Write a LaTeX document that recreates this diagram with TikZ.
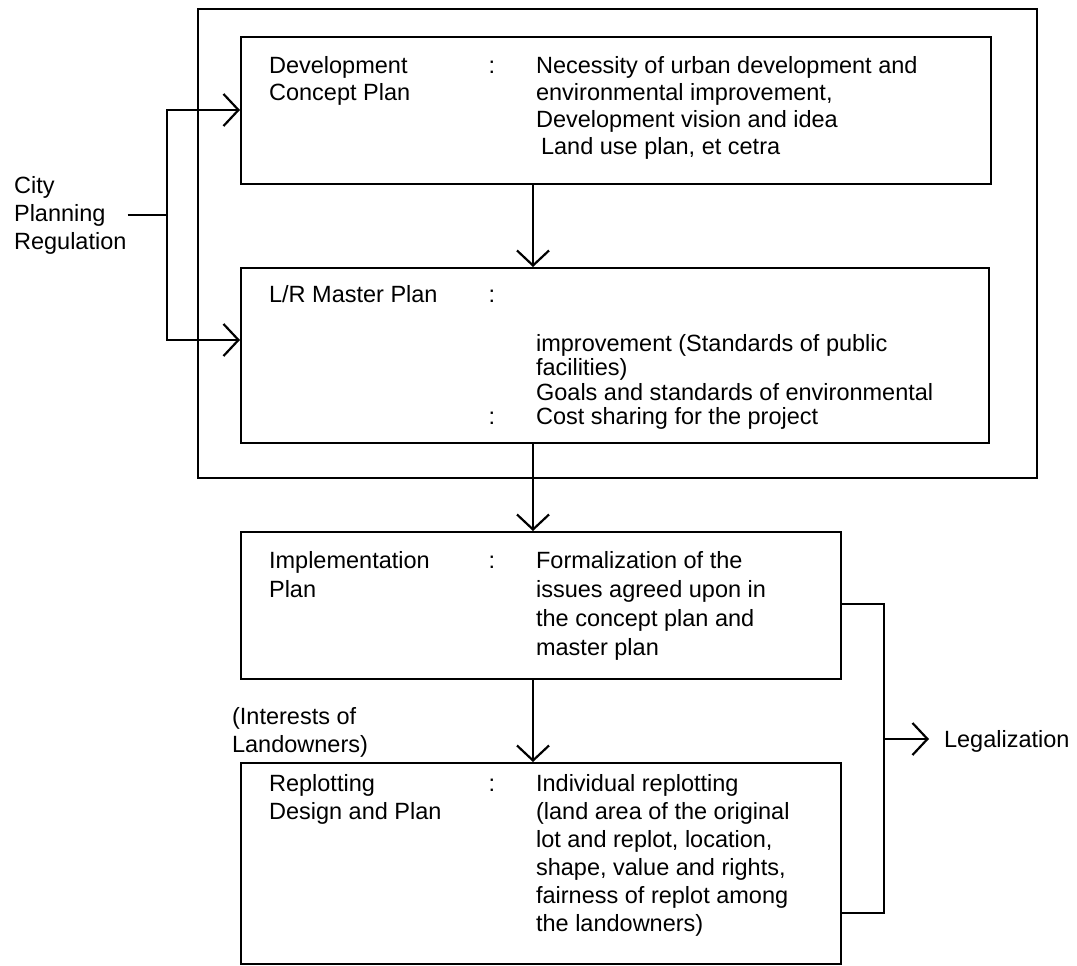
\documentclass[tikz,border=0pt]{standalone}
\usepackage{fontspec}
\setmainfont{Liberation Sans}
\usetikzlibrary{arrows.meta}
% lines of a text block, baseline on the first line
\newcommand{\txtlines}[1]{\begin{tabular}[t]{@{}l@{}}#1\end{tabular}}
\begin{document}
\begin{tikzpicture}[x=1pt,y=-1pt,
  line width=2.2pt,
  frame/.style={draw, line width=2.2pt, anchor=north west, inner sep=0pt},
  txt/.style={anchor=base west, inner sep=0pt, font=\fontsize{23.5}{#1}\selectfont},
  txt/.default=28,
  colon/.style={anchor=base, inner sep=0pt, font=\fontsize{23.5}{28}\selectfont},
  arr/.style={-{Straight Barb[length=15pt,width=32pt]}},
]
\useasboundingbox (0,0) rectangle (1077,966);

% frames
\node[frame, minimum width=839pt, minimum height=469pt] (outer) at (197,8) {};
\node[frame, minimum width=750pt, minimum height=147pt] (b1) at (240,36) {};
\node[frame, minimum width=748pt, minimum height=175pt] (b2) at (240,267) {};
\node[frame, minimum width=600pt, minimum height=147pt] (impl) at (240,531) {};
\node[frame, minimum width=600pt, minimum height=201pt] (repl) at (240,762) {};

% development concept plan
\node[txt=27] (b1l) at (268,74) {\txtlines{Development\\Concept Plan}};
\node[colon] (b1c) at (492,74) {:};
\node[txt=27] (b1r) at (535,74) {\txtlines{Necessity of urban development and\\environmental improvement,\\Development vision and idea\\\hspace{5pt}Land use plan, et cetra}};

% L/R master plan
\node[txt] (b2l) at (268,302) {L/R Master Plan};
\node[colon] (b2c) at (492,302) {:};
\node[txt=24.5] (b2r) at (535,351) {\txtlines{improvement (Standards of public\\facilities)\\Goals and standards of environmental\\Cost sharing for the project}};
\node[colon] (b2c2) at (492,424.5) {:};

% implementation plan
\node[txt=29] (impll) at (268,568.5) {\txtlines{Implementation\\Plan}};
\node[colon] (implc) at (492,568.5) {:};
\node[txt=29] (implr) at (535,568.5) {\txtlines{Formalization of the\\issues agreed upon in\\the concept plan and\\master plan}};

% replotting design and plan
\node[txt] (repll) at (268,791.5) {\txtlines{Replotting\\Design and Plan}};
\node[colon] (replc) at (492,791.5) {:};
\node[txt] (replr) at (535,791.5) {\txtlines{Individual replotting\\(land area of the original\\lot and replot, location,\\shape, value and rights,\\fairness of replot among\\the landowners)}};

% side labels
\node[txt] (city) at (13,193.5) {\txtlines{City\\Planning\\Regulation}};
\node[txt] (interests) at (231,724) {\txtlines{(Interests of\\Landowners)}};
\node[txt] (legal) at (943,747.5) {Legalization};

% regulation feed
\coordinate (reg) at (167,215);
\coordinate (j1) at (167,110);
\coordinate (j2) at (167,340);
\draw (city.east |- reg) -- (reg);
\draw[arr] (reg) -- (j1) -- (j1 -| b1.west);
\draw[arr] (reg) -- (j2) -- (j2 -| b2.west);

% main flow
\draw[arr] ([xshift=293pt]b1.south west) -- ([xshift=293pt]b2.north west);
\draw[arr] ([xshift=293pt]b2.south west) -- ([xshift=293pt]impl.north west);
\draw[arr] ([xshift=293pt]impl.south west) -- ([xshift=293pt]repl.north west);

% legalization bracket
\coordinate (k1) at (884,604);
\coordinate (k2) at (884,913);
\coordinate (k3) at (884,739);
\coordinate (lt) at (929,739);
\draw (k1 -| impl.east) -- (k1) -- (k2) -- (k2 -| repl.east);
\draw[arr] (k3) -- (lt);
\end{tikzpicture}
\end{document}
